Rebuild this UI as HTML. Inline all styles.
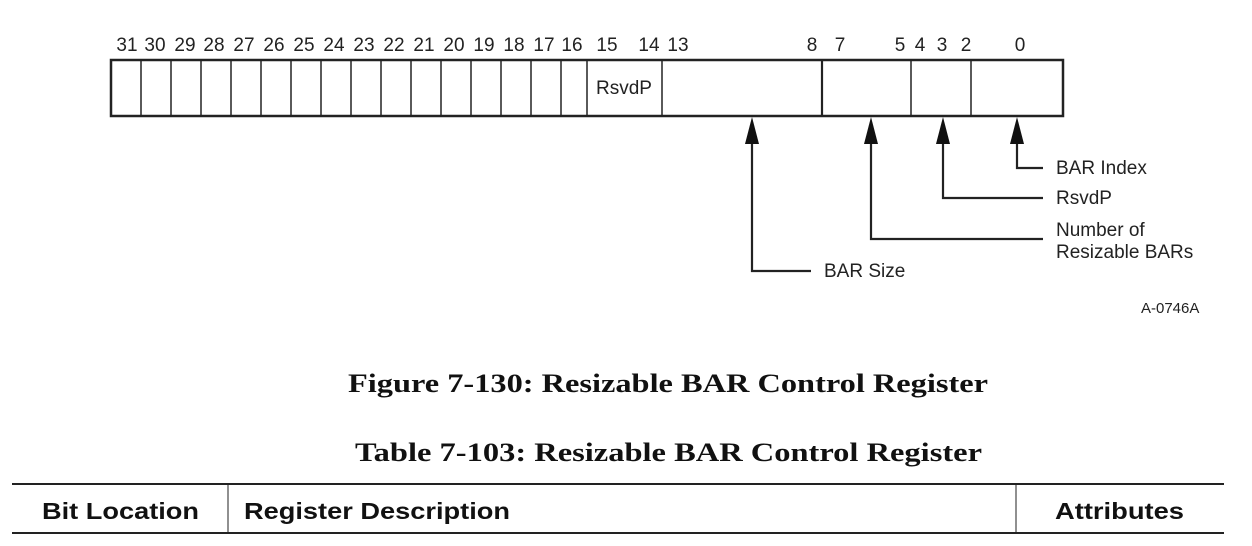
<!DOCTYPE html>
<html><head><meta charset="utf-8"><style>
body{margin:0;background:#fff;width:1252px;height:546px;overflow:hidden;position:relative}
svg{position:absolute;left:0;top:0}
.t{font-family:"Liberation Sans",Arial,sans-serif;font-size:19px;fill:#222}
.c{font-family:"Liberation Serif",serif;font-weight:bold;font-size:26px;fill:#111}
.h{font-family:"Liberation Sans",Arial,sans-serif;font-weight:bold;font-size:23px;fill:#111}
</style></head><body>
<svg width="1252" height="546" viewBox="0 0 1252 546">
<g stroke="#222" fill="none">
<rect x="111" y="60" width="952" height="56" stroke-width="2.5"/>
<g stroke-width="1.5">
<line x1="141" y1="60" x2="141" y2="116"/><line x1="171" y1="60" x2="171" y2="116"/>
<line x1="201" y1="60" x2="201" y2="116"/><line x1="231" y1="60" x2="231" y2="116"/>
<line x1="261" y1="60" x2="261" y2="116"/><line x1="291" y1="60" x2="291" y2="116"/>
<line x1="321" y1="60" x2="321" y2="116"/><line x1="351" y1="60" x2="351" y2="116"/>
<line x1="381" y1="60" x2="381" y2="116"/><line x1="411" y1="60" x2="411" y2="116"/>
<line x1="441" y1="60" x2="441" y2="116"/><line x1="471" y1="60" x2="471" y2="116"/>
<line x1="501" y1="60" x2="501" y2="116"/><line x1="531" y1="60" x2="531" y2="116"/>
<line x1="561" y1="60" x2="561" y2="116"/><line x1="587" y1="60" x2="587" y2="116"/>
<line x1="662" y1="60" x2="662" y2="116"/><line x1="911" y1="60" x2="911" y2="116"/>
<line x1="971" y1="60" x2="971" y2="116"/>
</g>
<line x1="822" y1="60" x2="822" y2="116" stroke-width="2.2"/>
<g stroke-width="2.2">
<polyline points="1017,140 1017,168 1043,168"/>
<polyline points="943,140 943,198 1043,198"/>
<polyline points="871,140 871,239 1043,239"/>
<polyline points="752,140 752,271 811,271"/>
</g>
<line x1="12" y1="484" x2="1224" y2="484" stroke-width="2"/>
<line x1="12" y1="533" x2="1224" y2="533" stroke-width="2"/>
<line x1="228" y1="484" x2="228" y2="533" stroke-width="1"/>
<line x1="1016" y1="484" x2="1016" y2="533" stroke-width="1"/>
</g>
<g fill="#111">
<polygon points="1017,117 1010,144 1024,144"/>
<polygon points="943,117 936,144 950,144"/>
<polygon points="871,117 864,144 878,144"/>
<polygon points="752,117 745,144 759,144"/>
</g>
<g class="t" text-anchor="middle">
<text x="127" y="51">31</text><text x="155" y="51">30</text><text x="185" y="51">29</text>
<text x="214" y="51">28</text><text x="244" y="51">27</text><text x="274" y="51">26</text>
<text x="304" y="51">25</text><text x="334" y="51">24</text><text x="364" y="51">23</text>
<text x="394" y="51">22</text><text x="424" y="51">21</text><text x="454" y="51">20</text>
<text x="484" y="51">19</text><text x="514" y="51">18</text><text x="544" y="51">17</text>
<text x="572" y="51">16</text><text x="607" y="51">15</text><text x="649" y="51">14</text>
<text x="678" y="51">13</text><text x="812" y="51">8</text><text x="840" y="51">7</text>
<text x="900" y="51">5</text><text x="920" y="51">4</text><text x="942" y="51">3</text>
<text x="966" y="51">2</text><text x="1020" y="51">0</text>
<text x="624" y="94">RsvdP</text>
</g>
<g class="t">
<text x="1056" y="174">BAR Index</text>
<text x="1056" y="204">RsvdP</text>
<text x="1056" y="236">Number of</text>
<text x="1056" y="258">Resizable BARs</text>
<text x="824" y="277">BAR Size</text>
<text x="1141" y="313" style="font-size:15px">A-0746A</text>
</g>
<text class="c" x="348" y="392" textLength="640" lengthAdjust="spacingAndGlyphs">Figure 7-130:  Resizable BAR Control Register</text>
<text class="c" x="355" y="461" textLength="627" lengthAdjust="spacingAndGlyphs">Table 7-103:  Resizable BAR Control Register</text>
<text class="h" x="42" y="519" textLength="157" lengthAdjust="spacingAndGlyphs">Bit Location</text>
<text class="h" x="244" y="519" textLength="266" lengthAdjust="spacingAndGlyphs">Register Description</text>
<text class="h" x="1055" y="519" textLength="129" lengthAdjust="spacingAndGlyphs">Attributes</text>
</svg>
</body></html>
